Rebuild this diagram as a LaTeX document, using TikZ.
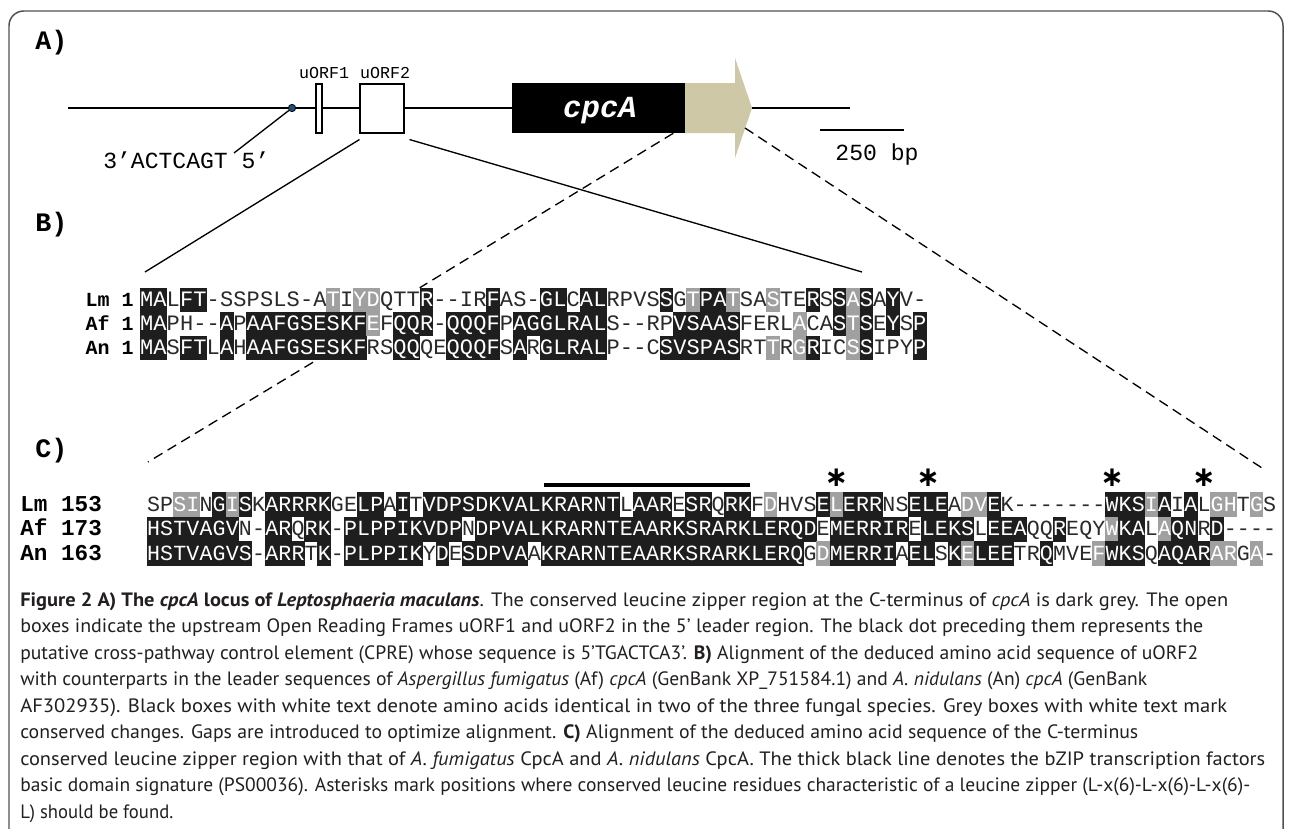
\documentclass[tikz,border=0pt]{standalone}
\usepackage{fontspec}
\usepackage{graphicx}
\setmainfont{PT Sans}
\newfontfamily\monof{Liberation Mono}
\newfontfamily\astf{DejaVu Sans}
\newlength\px
\setlength\px{0.75pt}
\definecolor{boxk}{HTML}{1E1E1E}
\definecolor{boxg}{HTML}{A0A0A0}
\definecolor{tanc}{HTML}{CFC8A7}
\definecolor{dotblue}{HTML}{1F4E79}
\definecolor{captxt}{HTML}{231F20}
\definecolor{seqtxt}{HTML}{2A2A2A}
\definecolor{framec}{HTML}{505050}
\newcount\colc
\def\walk#1#2\stopw#3#4\stopw{%
  \pgfmathsetmacro\cx{\ax+\aw*(\the\colc+0.5)}%
  \pgfmathsetmacro\cy{\ay+\ah/2}%
  \node[cellbase,seqfont,s#3] (\aname-\the\colc) at (\cx,\cy) {#1};%
  \global\advance\colc by 1\relax
  \ifx\relax#2\relax\else\walk#2\stopw#4\stopw\fi}
\newcommand\alrow[2]{\global\colc=0 \walk#1\stopw#2\stopw}
\begin{document}
\begin{tikzpicture}[x=0.75pt,y=-0.75pt,
  ln/.style={line width=1pt, black},
  dsh/.style={line width=1pt, black, dash pattern=on 7.5pt off 4.5pt},
  panel/.style={font=\monof\bfseries\fontsize{20}{20}\selectfont, anchor=base west, inner sep=0},
  smalllab/.style={font=\monof\fontsize{12.5}{12.5}\selectfont, anchor=base, inner sep=0},
  annot/.style={font=\monof\fontsize{17.3}{17.3}\selectfont, inner sep=0},
  rowlabB/.style={font=\monof\bfseries\fontsize{15}{15}\selectfont, anchor=base east, inner sep=0},
  rowlabC/.style={font=\monof\bfseries\fontsize{17}{17}\selectfont, anchor=base west, inner sep=0},
  cellbase/.style={inner sep=0, outer sep=0, minimum width=\aw*0.75pt+0.35pt, minimum height=\ah*0.75pt+0.35pt, text depth=0pt, anchor=center},
  sk/.style={fill=boxk,text=white},
  sg/.style={fill=boxg,text=white},
  sw/.style={text=seqtxt},
  capl/.style={font=\fontsize{14.5}{14.5}\selectfont, text=captxt, anchor=base west, inner sep=0},
  ast/.style={font=\astf\bfseries\fontsize{21}{21}\selectfont, anchor=base, inner sep=0}
]
\useasboundingbox (0,0) rectangle (1295,828);
\fill[white] (0,0) rectangle (1295,828);
\draw[framec, line width=1.1pt, rounded corners=11pt] (9,11) rectangle (1283,900);

% panel labels
\node[panel] (labA) at (35,49) {A)};
\node[panel] (labB) at (35,231) {B)};
\node[panel] (labC) at (35,457) {C)};

% ---------- A) locus ----------
\coordinate (lstart) at (68,108);
\coordinate (lend) at (850,108);
\node[fill=black, inner sep=0, minimum width=129.75pt, minimum height=37.5pt] (cpca) at (598.5,108) {};
\draw[ln] (lstart) -- (cpca.west);
\node[circle, draw=black, line width=0.6pt, fill=dotblue, inner sep=0, minimum size=5.5pt] (cpre) at (292,108) {};
\node[draw=black, line width=0.8pt, fill=white, inner sep=0, minimum width=4.5pt, minimum height=36.75pt] (uorf1) at (319,108.5) {};
\node[draw=black, line width=0.8pt, fill=white, inner sep=0, minimum width=33pt, minimum height=36.75pt] (uorf2) at (382,108.5) {};
\node[smalllab] (lu1) at (324,78) {uORF1};
\node[smalllab] (lu2) at (385,78) {uORF2};
\node[anchor=base, font=\monof\bfseries\itshape\fontsize{23}{23}\selectfont, text=white, inner sep=0] (cpcatxt) at (600,117) {cpcA};
\fill[tanc] (685,83) -- (735,83) -- (735,58) -- (752,108) -- (735,158) -- (735,133) -- (685,133) -- cycle;
\coordinate (tip) at (752,108);
\draw[ln] (tip) -- (lend);
\coordinate (sb1) at (820,130);
\coordinate (sb2) at (904,130);
\draw[ln] (sb1) -- (sb2);
\node[annot, anchor=base] (bp) at (877,160) {250 bp};
\node[annot, anchor=base west] (cpretxt) at (103,168) {3’ACTCAGT 5’};
\coordinate (cpreend) at (234,153);
\draw[ln] (cpre) -- (cpreend);

% ---------- B) alignment ----------
\tikzset{seqfont/.style={font=\monof\fontsize{16.5}{16.5}\selectfont, text height=10.2pt}}
\def\ax{140}\def\aw{13.33}\def\ah{24}
\def\aname{B-Lm}\def\ay{288}
\alrow{MALFT-SSPSLS-ATIYDQTTR--IRFAS-GLCALRPVSSGTPATSASTERSSASAYV-}{kkwkkwwwwwwwwwgwggwwwkwwwwkwwwkkwkkwwwwkwgkkgwwgwwkwkgkwkww}
\def\aname{B-Af}\def\ay{312}
\alrow{MAPH--APAAFGSESKFEFQQR-QQQFPAGGLRALS--RPVSAASFERLACASTSEYSP}{kkwwwwkwkkkkkkkkkgwkkkwkkkkwkkkkkkkwwwwwkkkkkwwwwgwwkgkwkwk}
\def\aname{B-An}\def\ay{336}
\alrow{MASFTLAHAAFGSESKFRSQQQEQQQFSARGLRALP--CSVSPASRTTRGRICSSIPYP}{kkwkkwkwkkkkkkkkkwwkkwwkkkkwkwkkkkkwwwwkkkkkkwwgwgkwwgkwwwk}
\node[rowlabB] (lbLm) at (134,306.8) {Lm 1};
\node[rowlabB] (lbAf) at (134,330.8) {Af 1};
\node[rowlabB] (lbAn) at (134,354.8) {An 1};

% ---------- C) alignment ----------
\tikzset{seqfont/.style={font=\monof\fontsize{16.2}{16.2}\selectfont, text height=10pt}}
\def\ax{147}\def\aw{13.13}\def\ah{24.5}
\def\aname{C-Lm}\def\ay{492.5}
\alrow{SPSINGISKARRRKGELPAITVDPSDKVALKRARNTLAARESRQRKFDHVSELERRNSELEADVEK-------WKSIAIALGHTGS}{wwggwkgkwkkkkkwwkkwkwkkkkkkkkkkkkkkkwkkkwkkwkkwgwwwkgkkkwwkkkwggkwwwwwwwwkkkgkwkwggwgw}
\def\aname{C-Af}\def\ay{517}
\alrow{HSTVAGVN-ARQRK-PLPPIKVDPNDPVALKRARNTEAARKSRARKLERQDEMERRIRELEKSLEEAQQREQYWKALAQNRD----}{kkkkkkkwwkkwkkwkkkkkkkkkwkkkkkkkkkkkkkkkkkkkkkkkkkkwkkkkkkwkkkkwkkkwwkwwwgkkwgkkwkwwwww}
\def\aname{C-An}\def\ay{541.5}
\alrow{HSTVAGVS-ARRTK-PLPPIKYDESDPVAAKRARNTEAARKSRARKLERQGDMERRIAELSKELEETRQMVEFWKSQAQARARGA-}{kkkkkkkkwkkkwkwkkkkkkwkwkkkkkwkkkkkkkkkkkkkkkkkkkkwgkkkkkwkkwkgkkkwwkwwwgkkkwkkkkggwgw}
\node[rowlabC] (lcLm) at (20,511.4) {Lm 153};
\node[rowlabC] (lcAf) at (20,535.9) {Af 173};
\node[rowlabC] (lcAn) at (20,560.4) {An 163};

% bZIP bar and asterisks
\coordinate (bar1) at (544,485.3);
\coordinate (bar2) at (750,485.3);
\draw[line width=3pt] (bar1) -- (bar2);
\node[ast] (ast1) at (836.3,486) {∗};
\node[ast] (ast2) at (928.2,486) {∗};
\node[ast] (ast3) at (1112.0,486) {∗};
\node[ast] (ast4) at (1203.9,486) {∗};

% ---------- zoom connectors ----------
\coordinate (bl) at (145,272);
\coordinate (br) at (862,272);
\draw[ln] ([yshift=-4.5pt]uorf2.south west) -- (bl);
\draw[ln] ([xshift=3.75pt,yshift=-4.5pt]uorf2.south east) -- (br);
\draw[dsh] ([xshift=-9pt]cpca.south east) -- (B-Lm-21.north west);
\coordinate (d2e) at (148,462);
\draw[dsh] ([yshift=-1.5pt]B-An-13.south west) -- (d2e);
\coordinate (d3s) at (745,128);
\coordinate (d3e) at (1262,468);
\draw[dsh] (d3s) -- (d3e);

% ---------- caption ----------
\node[capl] (cap1) at (20,606) {\resizebox{1208\px}{\height}{\textbf{Figure 2 A) The \textit{cpcA} locus of \textit{Leptosphaeria maculans}}. The conserved leucine zipper region at the C-terminus of \textit{cpcA} is dark grey. The open}};
\node[capl] (cap2) at (20,632.5) {\resizebox{1183\px}{\height}{boxes indicate the upstream Open Reading Frames uORF1 and uORF2 in the 5’ leader region. The black dot preceding them represents the}};
\node[capl] (cap3) at (20,659) {\resizebox{1178\px}{\height}{putative cross-pathway control element (CPRE) whose sequence is 5’TGACTCA3’. \textbf{B)} Alignment of the deduced amino acid sequence of uORF2}};
\node[capl] (cap4) at (20,685.5) {\resizebox{1127\px}{\height}{with counterparts in the leader sequences of \textit{Aspergillus fumigatus} (Af) \textit{cpcA} (GenBank XP\_751584.1) and \textit{A. nidulans} (An) \textit{cpcA} (GenBank}};
\node[capl] (cap5) at (20,712) {\resizebox{1207\px}{\height}{AF302935). Black boxes with white text denote amino acids identical in two of the three fungal species. Grey boxes with white text mark}};
\node[capl] (cap6) at (20,738.5) {\resizebox{1118\px}{\height}{conserved changes. Gaps are introduced to optimize alignment. \textbf{C)} Alignment of the deduced amino acid sequence of the C-terminus}};
\node[capl] (cap7) at (20,765) {\resizebox{1245\px}{\height}{conserved leucine zipper region with that of \textit{A. fumigatus} CpcA and \textit{A. nidulans} CpcA. The thick black line denotes the bZIP transcription factors}};
\node[capl] (cap8) at (20,791.5) {\resizebox{1230\px}{\height}{basic domain signature (PS00036). Asterisks mark positions where conserved leucine residues characteristic of a leucine zipper (L-x(6)-L-x(6)-L-x(6)-}};
\node[capl] (cap9) at (20,818) {\resizebox{153\px}{\height}{L) should be found.}};
\end{tikzpicture}
\end{document}
